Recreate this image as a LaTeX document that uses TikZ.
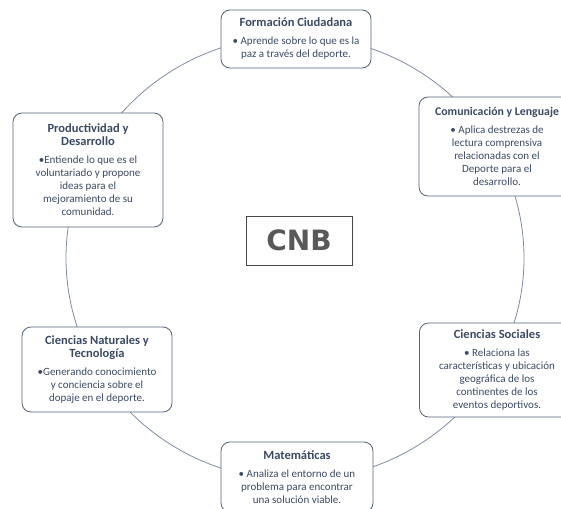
\documentclass[tikz,border=0pt]{standalone}
\usepackage{fontspec}
\setmainfont{Carlito}
\newfontfamily\cnbfont{DejaVu Sans}
\definecolor{txt}{HTML}{3B4A63}
\definecolor{boxc}{HTML}{56627A}
\definecolor{ringc}{HTML}{7E8CA3}
\definecolor{cnbc}{HTML}{595959}
\newcommand{\boxtitle}[1]{{\fontsize{12.5}{13}\selectfont\bfseries #1}}
\begin{document}
\begin{tikzpicture}[x=1pt,y=-1pt,
  box/.style={draw=boxc, line width=0.8pt, fill=white, rounded corners=9pt, align=center,
    text=txt, font=\fontsize{11}{13}\selectfont, inner sep=0pt},
  ring/.style={draw=ringc, line width=0.8pt}]
\useasboundingbox (0,0) rectangle (561,508);
\clip (0,0) rectangle (561,508);
\fill[white] (0,0) rectangle (561,508);
\coordinate (ctr) at (295,258);
\draw[ring] (ctr) ellipse [x radius=229, y radius=222];

\node[box, minimum width=150pt, minimum height=58pt] (fc) at (296,39)
  {\boxtitle{Formación Ciudadana}\\[5pt]• Aprende sobre lo que es la\\paz a través del deporte.};
\node[box, minimum width=156pt, minimum height=99pt] (cl) at (497,146.5)
  {{\fontsize{11.8}{13}\selectfont\bfseries Comunicación y Lenguaje}\\[5pt]• Aplica destrezas de\\lectura comprensiva\\relacionadas con el\\Deporte para el\\desarrollo.};
\node[box, minimum width=150pt, minimum height=114pt] (pd) at (88,170)
  {\boxtitle{Productividad y}\\\boxtitle{Desarrollo}\\[5pt]•Entiende lo que es el\\voluntariado y propone\\ideas para el\\mejoramiento de su\\comunidad.};
\node[box, minimum width=150pt, minimum height=85pt] (cn) at (97,369.5)
  {\boxtitle{Ciencias Naturales y}\\\boxtitle{Tecnología}\\[5pt]•Generando conocimiento\\y conciencia sobre el\\dopaje en el deporte.};
\node[box, minimum width=155pt, minimum height=94pt] (cs) at (497,370)
  {\boxtitle{Ciencias Sociales}\\[5pt]• Relaciona las\\características y ubicación\\geográfica de los\\continentes de los\\eventos deportivos.};
\node[box, minimum width=152pt, minimum height=70pt] (ma) at (297,477)
  {\boxtitle{Matemáticas}\\[5pt]• Analiza el entorno de un\\problema para encontrar\\una solución viable.};

\node[draw=cnbc!80!black, line width=1pt, fill=white, minimum width=106pt, minimum height=49pt,
  inner sep=0pt, text=cnbc, font=\cnbfont\bfseries\fontsize{28}{30}\selectfont] (cnb) at (299,240.5) {CNB};
\end{tikzpicture}
\end{document}
